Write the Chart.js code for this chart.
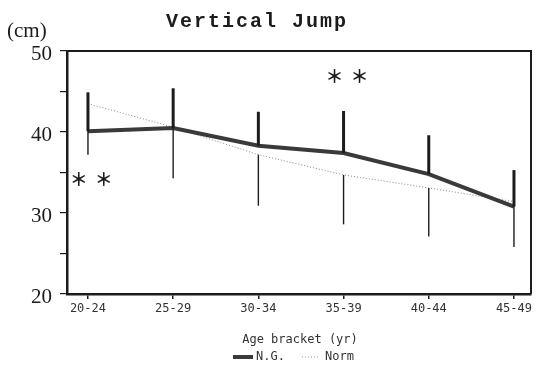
<!DOCTYPE html>
<html>
<head>
<meta charset="utf-8">
<script src="https://cdn.jsdelivr.net/npm/chart.js@4.4.1/dist/chart.umd.min.js"></script>
<style>
  html, body { margin: 0; padding: 0; background: #fff; }
  #wrap { width: 541px; height: 367px; }
</style>
</head>
<body>
<div id="wrap"><canvas id="jumpChart" width="541" height="367"></canvas></div>
<script>
// age brackets and group means / SDs (cm)
const ageGroups = ["20-24", "25-29", "30-34", "35-39", "40-44", "45-49"];
const ngMean = [40.1, 40.5, 38.3, 37.4, 34.8, 30.8];
const ngSD = [4.8, 4.9, 4.2, 5.2, 4.8, 4.5];
const normMean = [43.5, 40.6, 37.2, 34.7, 33.1, 31.4];
const normSD = [6.3, 6.3, 6.3, 6.1, 6.0, 5.6];
// significance marks: group index + level (cm)
const sigGroups = [0, 3];
const sigLevels = [34.2, 46.9];

const ink = "#1c1c1c";
const monoFont = "'DejaVu Sans Mono', monospace";

const toPoints = arr => arr.map((v, i) => ({ x: i, y: v }));

// vertical SD lines: N.G. goes up, Norm goes down
const errorBars = {
  id: "errorBars",
  afterDatasetsDraw(chart) {
    const { ctx, scales: { x, y } } = chart;
    ctx.save();
    ctx.strokeStyle = ink;
    ctx.lineCap = "butt";
    normMean.forEach((m, i) => {
      const px = x.getPixelForValue(i);
      ctx.lineWidth = 1.4;
      ctx.beginPath();
      ctx.moveTo(px, y.getPixelForValue(m));
      ctx.lineTo(px, y.getPixelForValue(m - normSD[i]));
      ctx.stroke();
    });
    ngMean.forEach((m, i) => {
      const px = x.getPixelForValue(i);
      ctx.lineWidth = 3;
      ctx.beginPath();
      ctx.moveTo(px, y.getPixelForValue(m));
      ctx.lineTo(px, y.getPixelForValue(m + ngSD[i]));
      ctx.stroke();
    });
    ctx.restore();
  }
};

// box, titles, stars and legend
const decorations = {
  id: "decorations",
  afterDraw(chart) {
    const { ctx, chartArea: a, scales: { x, y } } = chart;
    ctx.save();

    // top + right frame
    ctx.strokeStyle = ink;
    ctx.lineWidth = 2;
    ctx.beginPath();
    ctx.moveTo(a.left, a.top);
    ctx.lineTo(a.right, a.top);
    ctx.lineTo(a.right, a.bottom);
    ctx.stroke();

    ctx.fillStyle = ink;

    // title, spaced out
    const title = "Vertical Jump";
    const step = 14;
    ctx.font = "bold 20px 'Liberation Mono', monospace";
    ctx.textAlign = "left";
    ctx.textBaseline = "alphabetic";
    let tx = 166;
    for (const ch of title) {
      ctx.fillText(ch, tx, 27);
      tx += step;
    }

    // unit
    ctx.font = "21px 'Liberation Serif', serif";
    ctx.fillText("(cm)", 7, 37);

    // ** marks
    ctx.font = "bold 18px 'Noto Sans CJK JP', sans-serif";
    ctx.textAlign = "center";
    ctx.textBaseline = "middle";
    sigGroups.forEach((g, i) => {
      const cx = x.getPixelForValue(g + 0.04);
      const cy = y.getPixelForValue(sigLevels[i]);
      ctx.fillText("＊", cx - 12.5, cy);
      ctx.fillText("＊", cx + 12.5, cy);
    });

    // axis title
    ctx.font = "12px " + monoFont;
    ctx.fillStyle = "#333";
    ctx.fillText("Age bracket (yr)", 300, 340);

    // legend
    const ly = 357;
    ctx.strokeStyle = "#3a3a3a";
    ctx.lineWidth = 4;
    ctx.beginPath();
    ctx.moveTo(233, ly);
    ctx.lineTo(253, ly);
    ctx.stroke();
    ctx.textAlign = "left";
    ctx.fillText("N.G.", 256, ly);

    ctx.strokeStyle = "#999";
    ctx.lineWidth = 1;
    ctx.setLineDash([1, 2]);
    ctx.beginPath();
    ctx.moveTo(302, ly);
    ctx.lineTo(320, ly);
    ctx.stroke();
    ctx.setLineDash([]);
    ctx.fillText("Norm", 325, ly);

    ctx.restore();
  }
};

new Chart(document.getElementById("jumpChart"), {
  type: "line",
  data: {
    datasets: [
      {
        label: "N.G.",
        data: toPoints(ngMean),
        borderColor: "#3a3a3a",
        borderWidth: 4,
        pointRadius: 0,
        tension: 0
      },
      {
        label: "Norm",
        data: toPoints(normMean),
        borderColor: "#888",
        borderWidth: 1,
        borderDash: [1, 2],
        pointRadius: 0,
        tension: 0
      }
    ]
  },
  options: {
    responsive: false,
    animation: false,
    layout: { padding: { top: 51, right: 10, bottom: 0, left: 0 } },
    plugins: {
      legend: { display: false },
      title: { display: false },
      tooltip: { enabled: false }
    },
    scales: {
      x: {
        type: "linear",
        min: -0.246,
        max: 5.2,
        afterBuildTicks: scale => {
          scale.ticks = ageGroups.map((_, i) => ({ value: i }));
        },
        afterFit: scale => { scale.height = 73; },
        ticks: {
          callback: v => ageGroups[v] ?? "",
          color: "#333",
          font: { family: monoFont, size: 12 },
          padding: 3,
          maxRotation: 0
        },
        grid: {
          drawOnChartArea: false,
          tickLength: 5,
          color: ink,
          lineWidth: 1.5
        },
        border: { color: ink, width: 2.5 }
      },
      y: {
        min: 20,
        max: 50,
        afterFit: scale => { scale.width = 67; },
        ticks: {
          stepSize: 5,
          callback: v => (v % 10 === 0 ? v : ""),
          color: ink,
          font: { family: "'Liberation Serif', serif", size: 21 },
          padding: 8,
          labelOffset: 3
        },
        grid: {
          drawOnChartArea: false,
          tickLength: 7,
          color: ink,
          lineWidth: 1.2
        },
        border: { color: ink, width: 2.5 }
      }
    }
  },
  plugins: [errorBars, decorations]
});
</script>
</body>
</html>
